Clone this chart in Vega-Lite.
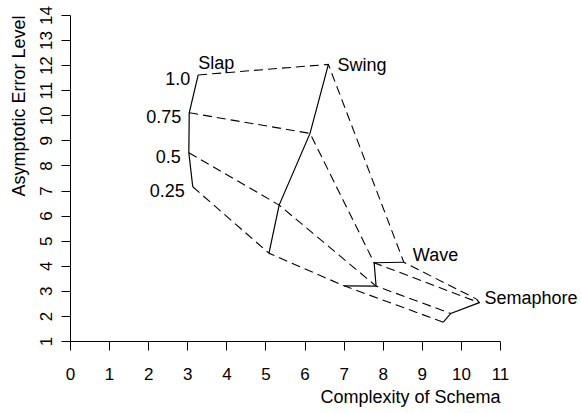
{
  "$schema": "https://vega.github.io/schema/vega-lite/v6.json",
  "autosize": "none",
  "width": 430,
  "height": 326,
  "padding": {"left": 70, "top": 15, "right": 81, "bottom": 72},
  "background": "white",
  "config": {
    "view": {"stroke": null},
    "font": "Liberation Sans",
    "axis": {
      "grid": false,
      "domainColor": "black",
      "tickColor": "black",
      "labelColor": "black",
      "titleColor": "black",
      "labelFont": "Liberation Sans",
      "titleFont": "Liberation Sans",
      "labelFontSize": 17,
      "titleFontSize": 18,
      "titleFontWeight": "normal",
      "tickSize": 9,
      "domainWidth": 1,
      "tickWidth": 1
    }
  },
  "data": {
    "values": [
      {"schema": "Slap", "s": 1, "level": "1.0", "lv": 4, "x": 3.28, "y": 11.61},
      {"schema": "Slap", "s": 1, "level": "0.75", "lv": 3, "x": 3.05, "y": 10.1},
      {"schema": "Slap", "s": 1, "level": "0.5", "lv": 2, "x": 3.04, "y": 8.51},
      {"schema": "Slap", "s": 1, "level": "0.25", "lv": 1, "x": 3.14, "y": 7.15},
      {"schema": "Swing", "s": 2, "level": "1.0", "lv": 4, "x": 6.61, "y": 12.03},
      {"schema": "Swing", "s": 2, "level": "0.75", "lv": 3, "x": 6.14, "y": 9.28},
      {"schema": "Swing", "s": 2, "level": "0.5", "lv": 2, "x": 5.35, "y": 6.42},
      {"schema": "Swing", "s": 2, "level": "0.25", "lv": 1, "x": 5.09, "y": 4.5},
      {"schema": "Wave", "s": 3, "level": "1.0", "lv": 4, "x": 8.54, "y": 4.14},
      {"schema": "Wave", "s": 3, "level": "0.75", "lv": 3, "x": 7.78, "y": 4.12},
      {"schema": "Wave", "s": 3, "level": "0.5", "lv": 2, "x": 7.83, "y": 3.19},
      {"schema": "Wave", "s": 3, "level": "0.25", "lv": 1, "x": 7.01, "y": 3.2},
      {"schema": "Semaphore", "s": 4, "level": "1.0", "lv": 4, "x": 10.4, "y": 2.67},
      {"schema": "Semaphore", "s": 4, "level": "0.75", "lv": 3, "x": 10.47, "y": 2.53},
      {"schema": "Semaphore", "s": 4, "level": "0.5", "lv": 2, "x": 9.74, "y": 2.1},
      {"schema": "Semaphore", "s": 4, "level": "0.25", "lv": 1, "x": 9.55, "y": 1.75}
    ]
  },
  "encoding": {
    "x": {
      "field": "x", "type": "quantitative",
      "scale": {"domain": [0, 11], "nice": false, "zero": false},
      "axis": {
        "title": "Complexity of Schema",
        "titleAnchor": "end",
        "values": [0,1,2,3,4,5,6,7,8,9,10,11],
        "labelPadding": 16,
        "titlePadding": 6,
        "labelFlush": false
      }
    },
    "y": {
      "field": "y", "type": "quantitative",
      "scale": {"domain": [1, 14], "nice": false, "zero": false},
      "axis": {
        "title": "Asymptotic Error Level",
        "titleAnchor": "end",
        "values": [1,2,3,4,5,6,7,8,9,10,11,12,13,14],
        "labelAngle": -90,
        "labelPadding": 6,
        "titlePadding": 9,
        "labelFlush": false
      }
    }
  },
  "layer": [
    {
      "mark": {"type": "line", "color": "black", "strokeWidth": 1.2},
      "encoding": {
        "detail": {"field": "schema"},
        "order": {"field": "lv", "sort": "descending"}
      }
    },
    {
      "mark": {"type": "line", "color": "black", "strokeWidth": 1.1, "strokeDash": [9, 5]},
      "encoding": {
        "detail": {"field": "level"},
        "order": {"field": "s"}
      }
    },
    {
      "transform": [{"filter": "datum.schema === 'Slap' && datum.lv === 4"}],
      "mark": {"type": "text", "align": "left", "baseline": "alphabetic", "dx": 0, "dy": -6, "fontSize": 18, "color": "black"},
      "encoding": {"text": {"field": "schema"}}
    },
    {
      "transform": [{"filter": "datum.schema === 'Swing' && datum.lv === 4"}],
      "mark": {"type": "text", "align": "left", "baseline": "middle", "dx": 9, "dy": 2, "fontSize": 18, "color": "black"},
      "encoding": {"text": {"field": "schema"}}
    },
    {
      "transform": [{"filter": "datum.schema === 'Wave' && datum.lv === 4"}],
      "mark": {"type": "text", "align": "left", "baseline": "middle", "dx": 9, "dy": -6, "fontSize": 18, "color": "black"},
      "encoding": {"text": {"field": "schema"}}
    },
    {
      "transform": [{"filter": "datum.schema === 'Semaphore' && datum.lv === 4"}],
      "mark": {"type": "text", "align": "left", "baseline": "middle", "dx": 8, "dy": 0, "fontSize": 18, "color": "black"},
      "encoding": {"text": {"field": "schema"}}
    },
    {
      "transform": [{"filter": "datum.schema === 'Slap'"}],
      "mark": {"type": "text", "align": "right", "baseline": "middle", "dx": -8, "dy": 5, "fontSize": 18, "color": "black"},
      "encoding": {"text": {"field": "level"}}
    }
  ]
}
